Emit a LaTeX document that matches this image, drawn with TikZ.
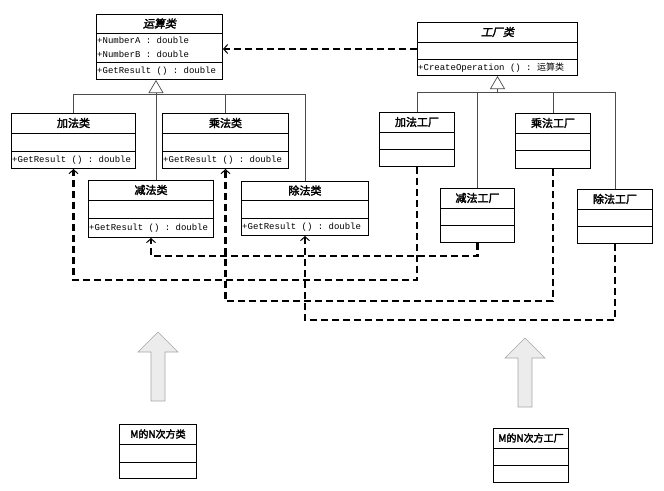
\documentclass[tikz,border=0pt]{standalone}
\usepackage{fontspec}
\setmonofont{Liberation Mono}
\newfontfamily\cjk{Noto Sans CJK SC}[AutoFakeBold=2.5,AutoFakeSlant=0.2]
\usepackage{tikz}
\usetikzlibrary{calc}
\usetikzlibrary{arrows.meta}

% #1 name, #2 left, #3 top, #4 width, #5/#6/#7 heights of the three parts, #8 title, #9 operation
\newcommand{\umlclass}[9]{%
	\node[classbox, minimum width=#4, minimum height=#5+#6+#7] (#1) at (#2,#3) {};
	\draw[boxline] ($(#1.north west)+(0,#5)$) -- ++(#4,0);
	\draw[boxline] ($(#1.north west)+(0,#5+#6)$) -- ++(#4,0);
	\node[classname] (#1-name) at ($(#1.north)+(0,#5/2)$) {#8};
	\node[member] (#1-op) at ($(#1.south west)+(1,-#7/2)$) {#9};
}

\begin{document}
\begin{tikzpicture}[x=1pt,y=-1pt]
		\tikzstyle{classbox}=[draw, line width=1pt, anchor=north west, inner sep=0pt, fill=white]
		\tikzstyle{boxline}=[line width=1pt]
		\tikzstyle{classname}=[font=\cjk\bfseries\fontsize{11}{12}\selectfont, inner sep=0pt]
		\tikzstyle{member}=[font=\ttfamily\fontsize{9}{10}\selectfont, anchor=west, inner sep=0pt]
		\tikzstyle{inherit}=[draw, line width=.7pt, black!70]
		\tikzstyle{dep}=[draw, line width=2.2pt, dash pattern=on 7pt off 4pt, -{Straight Barb[length=4pt,width=9pt,line width=1pt]}]
		\tikzstyle{bigarrow}=[fill=gray!15, draw=gray!70, line width=.6pt]
		\useasboundingbox (0,0) rectangle (664,490);

		% abstract classes
		\umlclass{oper}{96}{14}{126}{19}{29}{17}{\itshape 运算类}{+GetResult () : double}
		\node[member] (oper-a) at ($(oper.north west)+(1,26)$) {+NumberA : double};
		\node[member] (oper-b) at ($(oper.north west)+(1,40)$) {+NumberB : double};
		\umlclass{factory}{417}{22}{160}{20}{17}{16}{\itshape 工厂类}{+CreateOperation () : {\cjk 运算类}}

		% operations
		\umlclass{add}{11}{113}{124}{20}{18}{17}{加法类}{+GetResult () : double}
		\umlclass{mul}{162}{113}{126}{20}{18}{17}{乘法类}{+GetResult () : double}
		\umlclass{sub}{88}{180}{125}{20}{18}{19}{减法类}{+GetResult () : double}
		\umlclass{div}{241}{181}{127}{19}{18}{17}{除法类}{+GetResult () : double}

		% factories
		\umlclass{addf}{379}{112}{75}{20}{17}{17}{加法工厂}{}
		\umlclass{mulf}{515}{113}{75}{20}{17}{18}{乘法工厂}{}
		\umlclass{subf}{440}{188}{74}{20}{17}{17}{减法工厂}{}
		\umlclass{divf}{577}{189}{75}{20}{17}{17}{除法工厂}{}

		% new ones
		\umlclass{pow}{119}{424}{77}{20}{18}{16}{\fontsize{10}{11}\selectfont M的N次方类}{}
		\umlclass{powf}{493}{428}{75}{20}{17}{17}{\fontsize{10}{11}\selectfont M的N次方工厂}{}

		% inheritance
		\coordinate (opbar) at (0,94);
		\coordinate (fbar) at (0,92);
		\draw[inherit] (add.north) |- (div.north |- opbar) -- (div.north);
		\draw[inherit] (mul.north) -- (mul.north |- opbar);
		\draw[inherit, -{Triangle[open, length=13pt, width=15pt, fill=white]}] ([xshift=5pt]sub.north) -- ([xshift=5pt]sub.north |- oper.south);
		\draw[inherit] (addf.north) |- (divf.north |- fbar) -- (divf.north);
		\draw[inherit] (subf.north) -- (subf.north |- fbar);
		\draw[inherit] (mulf.north) -- (mulf.north |- fbar);
		\draw[inherit, -{Triangle[open, length=13pt, width=15pt, fill=white]}] (factory.south |- fbar) -- (factory.south);

		% dependencies
		\draw[dep] (factory.west) -- (factory.west -| oper.east);
		\draw[dep] (subf.south) -- ++(0,13) -| (sub.south);
		\draw[dep] (addf.south) -- ++(0,113) -| (add.south);
		\draw[dep] (mulf.south) -- ++(0,132) -| (mul.south);
		\draw[dep] (divf.south) -- ++(0,76) -| (div.south);

		% big arrows
		\foreach \ax/\ay in {158/332, 525/338}
			\draw[bigarrow] (\ax,\ay) -- ++(20,20) -- ++(-13,0) -- ++(0,49) -- ++(-14,0) -- ++(0,-49) -- ++(-13,0) -- cycle;
	\end{tikzpicture}
\end{document}
